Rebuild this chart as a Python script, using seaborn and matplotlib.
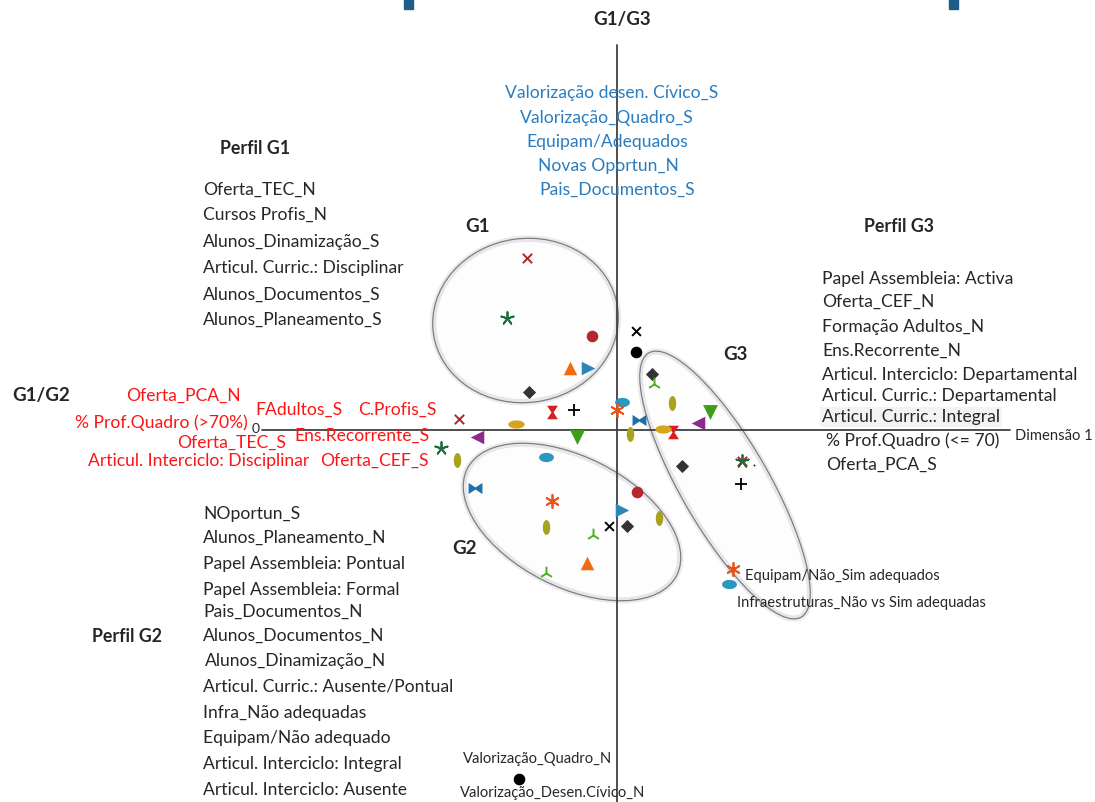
import numpy as np
import pandas as pd
import matplotlib
matplotlib.use("Agg")
import matplotlib.pyplot as plt
import seaborn as sns
from matplotlib.path import Path
from matplotlib.patches import Ellipse, Rectangle

sns.set_theme(style="white")
plt.rcParams['font.family'] = ['Lato', 'DejaVu Sans']

# ---------------- data (Dimensão 1, Dimensão 2) ----------------
point_kind = [
    "x_red", "star_green", "circle_red", "tri_orange", "tri_right_blue", "diamond",
    "x_black", "circle_black",
    "plus", "hourglass", "ell_gold", "x_red", "tri_left_purple", "tri_down_green",
    "star_green", "ell_olive", "ell_blue", "ast_orange", "bowtie", "ell_olive",
    "diamond", "tri_y_green", "ell_olive", "tri_down_green", "tri_left_purple",
    "hourglass", "ell_gold", "diamond", "star_green", "x_red", "plus",
    "ast_orange", "ell_blue", "dot_small",
    "ell_blue", "bowtie", "ast_orange", "ell_olive", "tri_y_green", "tri_orange",
    "tri_y_green", "x_black", "tri_right_blue", "diamond", "circle_red", "ell_olive",
    "circle_black",
]
dim1 = [
    -0.90, -1.10, -0.25, -0.47, -0.29, -0.88,
    0.19, 0.19,
    -0.43, -0.65, -1.01, -1.58, -1.40, -0.40,
    -1.76, -1.60, 0.05, 0.00, 0.22, 0.13,
    0.35, 0.37, 0.55, 0.93, 0.81,
    0.56, 0.46, 0.65, 1.25, 1.25, 1.24,
    1.16, 1.12, 1.37,
    -0.71, -1.42, -0.65, -0.71, -0.24, -0.30,
    -0.71, -0.08, 0.05, 0.10, 0.20, 0.42,
    -0.98,
]
dim2 = [
    1.72, 1.12, 0.94, 0.62, 0.62, 0.38,
    0.99, 0.78,
    0.20, 0.18, 0.06, 0.11, -0.07, -0.07,
    -0.18, -0.30, 0.28, 0.20, 0.10, -0.04,
    0.56, 0.46, 0.27, 0.18, 0.07,
    -0.02, 0.01, -0.36, -0.31, -0.31, -0.54,
    -1.39, -1.54, -0.35,
    -0.27, -0.58, -0.71, -0.97, -1.05, -1.33,
    -1.43, -0.96, -0.80, -0.96, -0.62, -0.88,
    -3.49,
]

# group ellipses: centre (dim1, dim2), width, height, angle
group_names = ["G1", "G2", "G3"]
group_cx = [-0.915, -0.45, 1.08]
group_cy = [1.095, -0.92, -0.55]
group_w = [1.86, 2.35, 3.05]
group_h = [1.64, 1.30, 0.88]
group_ang = [8, -27, -60]

df = pd.DataFrame({"dim1": dim1, "dim2": dim2, "kind": point_kind})

# ---------------- marker styles ----------------
t = np.linspace(0, 2 * np.pi, 48)
ell_v = Path(np.c_[0.5 * np.cos(t), np.sin(t)], closed=True)
ell_h = Path(np.c_[np.cos(t), 0.5 * np.sin(t)], closed=True)
ell_h2 = Path(np.c_[np.cos(t), 0.62 * np.sin(t)], closed=True)
bow = Path([(-1, -0.8), (-1, 0.8), (0, 0.15), (1, 0.8), (1, -0.8), (0, -0.15), (-1, -0.8)], closed=True)
hour = Path([(-0.8, -1), (0.8, -1), (0.15, 0), (0.8, 1), (-0.8, 1), (-0.15, 0), (-0.8, -1)], closed=True)

styles = {
    "x_red": ("x", "#a8262a", 45, 1.4),
    "star_green": ((5, 2, 0), "#1d6b3c", 85, 1.3),
    "circle_red": ("o", "#b5262e", 70, 0),
    "tri_orange": ("^", "#f26a10", 95, 0),
    "tri_right_blue": (">", "#2f86b6", 95, 0),
    "diamond": ("D", "#333333", 45, 0),
    "x_black": ("x", "#000000", 40, 1.4),
    "circle_black": ("o", "#000000", 70, 0),
    "plus": ("+", "#000000", 75, 1.3),
    "hourglass": (hour, "#d81e1e", 95, 0),
    "ell_gold": (ell_h, "#d8a41d", 140, 0),
    "tri_left_purple": ("<", "#8b2c8c", 95, 0),
    "tri_down_green": ("v", "#3e9d1b", 115, 0),
    "ell_olive": (ell_v, "#a9a21c", 115, 0),
    "ell_blue": (ell_h2, "#2b97c1", 115, 0),
    "ast_orange": ((6, 2, 0), "#e6541c", 90, 1.3),
    "bowtie": (bow, "#1f6fa8", 100, 0),
    "tri_y_green": ("2", "#4daf22", 95, 1.4),
    "dot_small": (".", "#222222", 8, 0),
}

fig = plt.figure(figsize=(10.95, 8.02), dpi=100)
ax = fig.add_axes([0, 0, 1, 1])


def P(x, y):
    """layout helper: figure pixel -> data coordinates"""
    return (x - 617) / 100.0, (430 - y) / 100.0


# group ellipses (glossy look)
for cx, cy, w, h, a in zip(group_cx, group_cy, group_w, group_h, group_ang):
    ax.add_patch(Ellipse((cx, cy), w, h, angle=a, facecolor="#fcfcfe",
                         edgecolor="#d6d6da", lw=4, alpha=0.5, zorder=1))
    ax.add_patch(Ellipse((cx, cy), w, h, angle=a, facecolor="none",
                         edgecolor="#7c7c82", lw=0.9, zorder=2))
    ax.add_patch(Ellipse((cx, cy), w - 0.05, h - 0.05, angle=a, facecolor="none",
                         edgecolor="#e6e6ea", lw=1.6, zorder=2))

# axes lines
x0, y0 = P(262, 429)
x1, _ = P(1010, 429)
ax.plot([x0, x1], [0, 0], color="#404040", lw=1.3, zorder=3)
_, ya = P(617, 45)
_, yb = P(617, 802)
ax.plot([0, 0], [ya, yb], color="#404040", lw=1.3, zorder=3)

# points
for k, sub in df.groupby("kind", sort=False):
    m, c, s, lw = styles[k]
    sns.scatterplot(data=sub, x="dim1", y="dim2", marker=m, color=c, s=s,
                    linewidth=lw, edgecolor=c if lw == 0 else None,
                    ax=ax, legend=False, zorder=5)
ax.set_xlim(-6.17, 4.78)
ax.set_ylim(-3.72, 4.30)
ax.axis("off")

# decorative squares at top
for xs in (404, 949):
    xx, yy = P(xs, 9)
    ax.add_patch(Rectangle((xx, yy), 0.09, 0.12, color="#1f5c8a", zorder=6, clip_on=False))

FS = 12.6
SMALL = 10.6
BOLD = 13.5
BLUE = "#2a7cc0"
RED = "#ff1414"


def T(x, y, s, **kw):
    xx, yy = P(x, y)
    kw.setdefault("fontsize", FS)
    kw.setdefault("va", "center")
    ax.text(xx, yy, s, **kw)


# titles / group names
T(622, 20, "G1/G3", fontsize=BOLD, fontweight="bold", ha="center")
T(12, 396, "G1/G2", fontsize=BOLD, fontweight="bold", ha="left")
T(220, 148, "Perfil G1", fontsize=12.8, fontweight="bold", ha="left")
T(864, 226, "Perfil G3", fontsize=12.8, fontweight="bold", ha="left")
T(92, 636, "Perfil G2", fontsize=12.8, fontweight="bold", ha="left")
T(465, 227, "G1", fontsize=BOLD, fontweight="bold", ha="left")
T(723, 354, "G3", fontsize=BOLD, fontweight="bold", ha="left")
T(452, 549, "G2", fontsize=BOLD, fontweight="bold", ha="left")
T(1015, 436, "Dimensão 1", fontsize=SMALL, ha="left")
T(252, 429, "0", fontsize=10, ha="left")

# blue labels (top)
for txt, xc, y in [("Valorização desen. Cívico_S", 612, 93),
                   ("Valorização_Quadro_S", 607, 118),
                   ("Equipam/Adequados", 607, 142),
                   ("Novas Oportun_N", 608, 166),
                   ("Pais_Documentos_S", 617, 190)]:
    T(xc, y, txt, color=BLUE, ha="center")

# Perfil G1 labels
for txt, y in [("Oferta_TEC_N", 190), ("Cursos Profis_N", 215),
               ("Alunos_Dinamização_S", 242), ("Articul. Curric.: Disciplinar", 268),
               ("Alunos_Documentos_S", 295), ("Alunos_Planeamento_S", 320)]:
    T(203, y, txt, ha="left")

# Perfil G3 labels
for txt, x, y in [("Papel Assembleia: Activa", 822, 279), ("Oferta_CEF_N", 822, 302),
                  ("Formação Adultos_N", 822, 327), ("Ens.Recorrente_N", 822, 351),
                  ("Articul. Interciclo: Departamental", 822, 375),
                  ("Articul. Curric.: Departamental", 822, 396),
                  ("% Prof.Quadro (<= 70)", 826, 441), ("Oferta_PCA_S", 826, 465)]:
    T(x, y, txt, ha="left")
T(822, 417, "Articul. Curric.: Integral", ha="left",
  bbox=dict(boxstyle="square,pad=0.12", facecolor="#f3f3f5", edgecolor="none"))

# red labels (left of origin)
for txt, x, y in [("Oferta_PCA_N", 126, 396), ("% Prof.Quadro (>70%)", 75, 423),
                  ("Oferta_TEC_S", 177, 443), ("Articul. Interciclo: Disciplinar", 88, 461),
                  ("FAdultos_S", 255, 410), ("C.Profis_S", 358, 410),
                  ("Ens.Recorrente_S", 294, 436), ("Oferta_CEF_S", 320, 461)]:
    T(x, y, txt, color=RED, ha="left")

# Perfil G2 labels
for txt, x, y in [("NOportun_S", 203, 514), ("Alunos_Planeamento_N", 203, 538),
                  ("Papel Assembleia: Pontual", 203, 564), ("Papel Assembleia: Formal", 203, 590),
                  ("Pais_Documentos_N", 203, 612), ("Alunos_Documentos_N", 203, 636),
                  ("Alunos_Dinamização_N", 205, 661),
                  ("Articul. Curric.: Ausente/Pontual", 203, 687),
                  ("Infra_Não adequadas", 203, 713), ("Equipam/Não adequado", 203, 738),
                  ("Articul. Interciclo: Integral", 203, 764),
                  ("Articul. Interciclo: Ausente", 203, 790)]:
    T(x, y, txt, ha="left")

# small labels
T(745, 576, "Equipam/Não_Sim adequados", fontsize=SMALL, ha="left")
T(737, 603, "Infraestruturas_Não vs Sim adequadas", fontsize=SMALL, ha="left")
T(463, 759, "Valorização_Quadro_N", fontsize=SMALL, ha="left")
T(460, 793, "Valorização_Desen.Cívico_N", fontsize=SMALL, ha="left")

fig.savefig("out.png", dpi=100, facecolor="white")
